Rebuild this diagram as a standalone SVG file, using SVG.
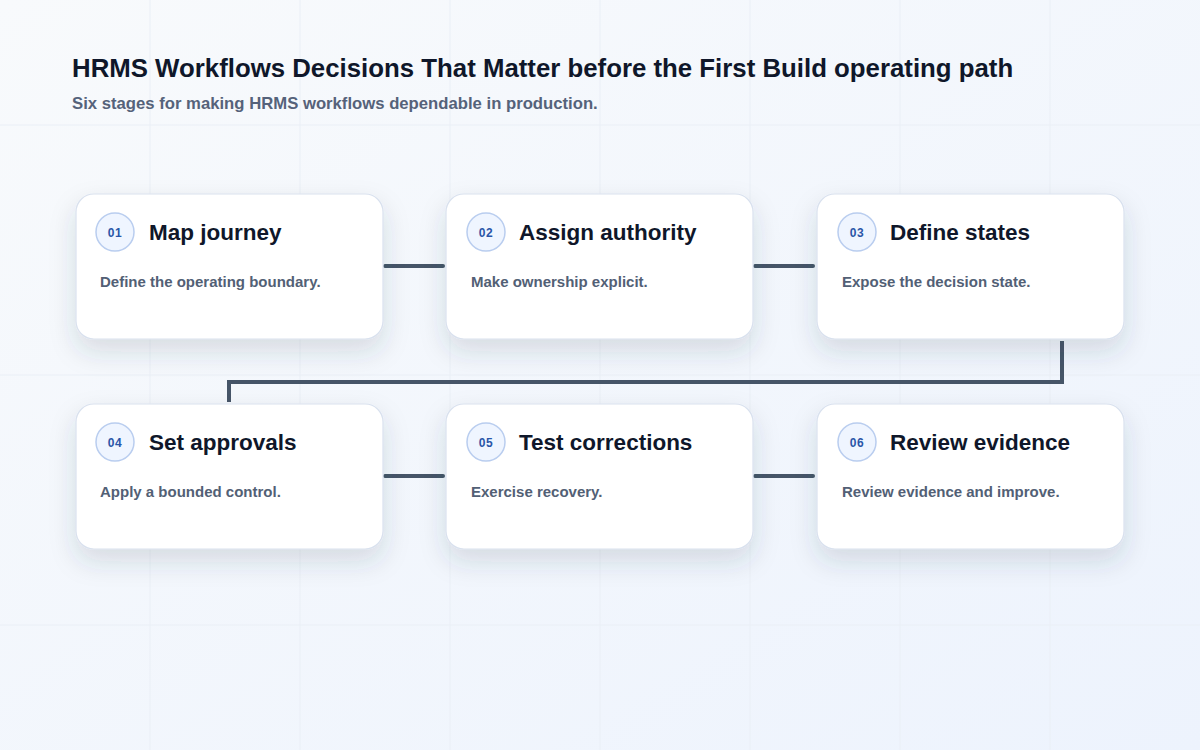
<svg xmlns="http://www.w3.org/2000/svg" width="1200" height="750" viewBox="0 0 1200 750">
<defs>
<linearGradient id="bg" x1="0" y1="0" x2="1" y2="1">
<stop offset="0" stop-color="#f8fafc"/>
<stop offset="1" stop-color="#edf3fd"/>
</linearGradient>
<filter id="shadow" x="-25%" y="-25%" width="150%" height="170%">
<feDropShadow dx="0" dy="12" stdDeviation="13" flood-color="#334155" flood-opacity="0.15"/>
</filter>
<style>
.grid{stroke:#eaeff6;stroke-width:1}
.card{fill:#ffffff;stroke:#d9e1ee;stroke-width:1.2}
.badge{fill:#eff5ff;stroke:#b9cdef;stroke-width:1.5}
.num{font-family:"Liberation Sans",Arial,sans-serif;font-size:12px;font-weight:700;fill:#2a56a8;text-anchor:middle;letter-spacing:0.5px}
.title{font-family:"Liberation Sans",Arial,sans-serif;font-size:22.5px;font-weight:700;fill:#0f172a}
.desc{font-family:"Liberation Sans",Arial,sans-serif;font-size:15px;font-weight:700;fill:#526075}
.conn{fill:none;stroke:#465568;stroke-width:4;stroke-linecap:round;stroke-linejoin:miter}
</style>
</defs>
<rect width="1200" height="750" fill="url(#bg)"/>
<g id="grid">
<line class="grid" x1="150" y1="0" x2="150" y2="750"/>
<line class="grid" x1="300" y1="0" x2="300" y2="750"/>
<line class="grid" x1="450" y1="0" x2="450" y2="750"/>
<line class="grid" x1="600" y1="0" x2="600" y2="750"/>
<line class="grid" x1="750" y1="0" x2="750" y2="750"/>
<line class="grid" x1="900" y1="0" x2="900" y2="750"/>
<line class="grid" x1="1050" y1="0" x2="1050" y2="750"/>
<line class="grid" x1="0" y1="125" x2="1200" y2="125"/>
<line class="grid" x1="0" y1="375" x2="1200" y2="375"/>
<line class="grid" x1="0" y1="625" x2="1200" y2="625"/>
</g>
<g id="header">
<text x="72" y="77" font-family="Liberation Sans, Arial, sans-serif" font-size="25.8" font-weight="700" fill="#0f172a">HRMS Workflows Decisions That Matter before the First Build operating path</text>
<text x="72" y="109" font-family="Liberation Sans, Arial, sans-serif" font-size="16.7" font-weight="700" fill="#55627a">Six stages for making HRMS workflows dependable in production.</text>
</g>
<g id="connectors">
<line class="conn" x1="385" y1="266" x2="443" y2="266"/>
<line class="conn" x1="755" y1="266" x2="813" y2="266"/>
<polyline class="conn" style="stroke-linecap:butt" points="1062,341 1062,382 229,382 229,402"/>
<line class="conn" x1="385" y1="476" x2="443" y2="476"/>
<line class="conn" x1="755" y1="476" x2="813" y2="476"/>
</g>
<g id="node1">
<rect class="card" filter="url(#shadow)" x="76" y="194" width="307" height="145" rx="18"/>
<circle class="badge" cx="115" cy="232" r="19"/>
<text class="num" x="115" y="236.5">01</text>
<text class="title" x="149" y="239.5">Map journey</text>
<text class="desc" x="100" y="287">Define the operating boundary.</text>
</g>
<g id="node2">
<rect class="card" filter="url(#shadow)" x="446" y="194" width="307" height="145" rx="18"/>
<circle class="badge" cx="486" cy="232" r="19"/>
<text class="num" x="486" y="236.5">02</text>
<text class="title" x="519" y="239.5">Assign authority</text>
<text class="desc" x="471" y="287">Make ownership explicit.</text>
</g>
<g id="node3">
<rect class="card" filter="url(#shadow)" x="817" y="194" width="307" height="145" rx="18"/>
<circle class="badge" cx="857" cy="232" r="19"/>
<text class="num" x="857" y="236.5">03</text>
<text class="title" x="890" y="239.5">Define states</text>
<text class="desc" x="842" y="287">Expose the decision state.</text>
</g>
<g id="node4">
<rect class="card" filter="url(#shadow)" x="76" y="404" width="307" height="145" rx="18"/>
<circle class="badge" cx="115" cy="442" r="19"/>
<text class="num" x="115" y="446.5">04</text>
<text class="title" x="149" y="449.5">Set approvals</text>
<text class="desc" x="100" y="497">Apply a bounded control.</text>
</g>
<g id="node5">
<rect class="card" filter="url(#shadow)" x="446" y="404" width="307" height="145" rx="18"/>
<circle class="badge" cx="486" cy="442" r="19"/>
<text class="num" x="486" y="446.5">05</text>
<text class="title" x="519" y="449.5">Test corrections</text>
<text class="desc" x="471" y="497">Exercise recovery.</text>
</g>
<g id="node6">
<rect class="card" filter="url(#shadow)" x="817" y="404" width="307" height="145" rx="18"/>
<circle class="badge" cx="857" cy="442" r="19"/>
<text class="num" x="857" y="446.5">06</text>
<text class="title" x="890" y="449.5">Review evidence</text>
<text class="desc" x="842" y="497">Review evidence and improve.</text>
</g>
</svg>
